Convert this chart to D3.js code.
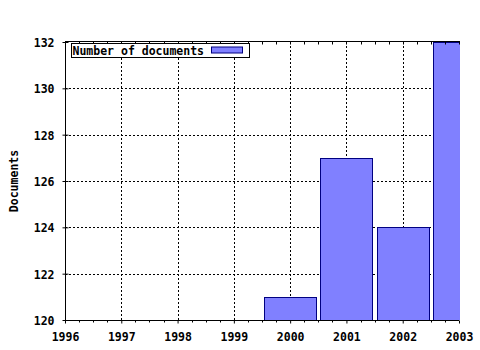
<!DOCTYPE html>
<html>
<head>
<meta charset="utf-8">
<script src="https://cdn.jsdelivr.net/npm/d3@7"></script>
<style>
  body { margin: 0; background: #fff; }
  text { font-family: "DejaVu Sans Mono", monospace; font-weight: bold; font-size: 11.5px; }
</style>
</head>
<body>
<svg width="480" height="350"></svg>
<script>
const years = [2000, 2001, 2002, 2003];
const documents = [121, 127, 124, 132];
const yearTicks = [1996, 1997, 1998, 1999, 2000, 2001, 2002, 2003];
const docTicks = [120, 122, 124, 126, 128, 130, 132];
const seriesName = "Number of documents";

const svg = d3.select("svg");
const plotLeft = 65, plotRight = 459, plotTop = 42, plotBottom = 320;

const x = d3.scaleLinear().domain([1996, 2003]).range([plotLeft, plotRight]);
const y = d3.scaleLinear().domain([120, 132]).range([plotBottom, plotTop]);
const barW = 52;

svg.append("clipPath").attr("id", "plot")
    .append("rect")
    .attr("x", plotLeft).attr("y", plotTop - 1)
    .attr("width", plotRight - plotLeft + 1).attr("height", plotBottom - plotTop + 1);

// grid
const grid = svg.append("g")
    .attr("stroke", "#000")
    .attr("stroke-width", 1)
    .attr("stroke-dasharray", "2,2")
    .attr("shape-rendering", "crispEdges");

grid.selectAll(".gx")
    .data(yearTicks.slice(1, -1))
    .enter().append("line")
    .attr("x1", d => Math.round(x(d)) + 0.5)
    .attr("x2", d => Math.round(x(d)) + 0.5)
    .attr("y1", plotTop)
    .attr("y2", plotBottom);

grid.selectAll(".gy")
    .data(docTicks.slice(1, -1))
    .enter().append("line")
    .attr("y1", d => Math.round(y(d)) + 0.5)
    .attr("y2", d => Math.round(y(d)) + 0.5)
    .attr("x1", plotLeft)
    .attr("x2", plotRight);

// bars
svg.append("g")
    .attr("clip-path", "url(#plot)")
    .selectAll("rect")
    .data(years)
    .enter().append("rect")
    .attr("x", d => Math.round(x(d) - barW / 2) + 0.5)
    .attr("width", barW)
    .attr("y", (d, i) => Math.round(y(documents[i])) + 0.5)
    .attr("height", (d, i) => Math.round(y(120)) - Math.round(y(documents[i])))
    .attr("fill", "#8080ff")
    .attr("stroke", "#000080")
    .attr("stroke-width", 1)
    .attr("shape-rendering", "crispEdges");

// axes
const yAxis = d3.axisLeft(y).tickValues(docTicks).tickSize(3).tickPadding(8).tickFormat(d3.format("d"));
const gy = svg.append("g")
    .attr("transform", `translate(${plotLeft + 0.5},0)`)
    .call(yAxis);
gy.select(".domain").attr("d", `M0,${plotTop}V${plotBottom}`);
gy.selectAll(".tick line").attr("x1", 3).attr("x2", -3);

const xAxis = d3.axisBottom(x).tickValues(yearTicks).tickSize(3).tickPadding(9).tickFormat(d3.format("d"));
const gx = svg.append("g")
    .attr("transform", `translate(0,${plotBottom + 0.5})`)
    .call(xAxis);
gx.select(".domain").attr("d", `M${plotLeft},0H${plotRight}`);

const minor = [];
for (let i = 0; i < yearTicks.length - 1; i++) {
    for (let k = 1; k < 4; k++) minor.push(yearTicks[i] + k / 4);
}
gx.selectAll(".minor")
    .data(minor)
    .enter().append("line")
    .attr("x1", d => Math.round(x(d)) + 0.5)
    .attr("x2", d => Math.round(x(d)) + 0.5)
    .attr("y1", 0).attr("y2", 2)
    .attr("stroke", "#000");

// top axis line with minor ticks
const topAxis = svg.append("g").attr("transform", `translate(0,${plotTop - 0.5})`);
topAxis.append("line")
    .attr("x1", plotLeft).attr("x2", plotRight + 1)
    .attr("stroke", "#000");
topAxis.selectAll(".t")
    .data(yearTicks.concat(minor))
    .enter().append("line")
    .attr("x1", d => Math.round(x(d)) + 0.5)
    .attr("x2", d => Math.round(x(d)) + 0.5)
    .attr("y1", 0).attr("y2", 3)
    .attr("stroke", "#000");

svg.selectAll(".tick text").attr("fill", "#000");
gy.selectAll(".tick text").attr("dy", "0.38em");

// y title
svg.append("text")
    .attr("transform", `translate(18,${(plotTop + plotBottom) / 2}) rotate(-90)`)
    .attr("text-anchor", "middle")
    .text("Documents");

// legend
const lg = svg.append("g").attr("transform", "translate(71.5,43.5)");
lg.append("rect")
    .attr("width", 178).attr("height", 14)
    .attr("fill", "#fff").attr("stroke", "#000");
lg.append("text")
    .attr("x", 1).attr("y", 11)
    .text(seriesName);
lg.append("rect")
    .attr("x", 140).attr("y", 3.5)
    .attr("width", 31).attr("height", 6)
    .attr("fill", "#8080ff").attr("stroke", "#000080");
</script>
</body>
</html>
